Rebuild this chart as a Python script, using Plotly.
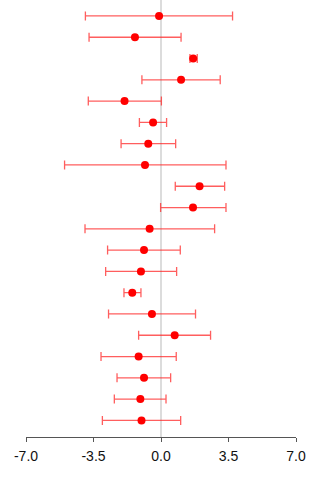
import plotly.graph_objects as go

# Estimates (top row first)
estimates = [-0.10, -1.35, 1.67, 1.04, -1.89, -0.41, -0.66, -0.83, 2.00, 1.66,
             -0.59, -0.88, -1.04, -1.49, -0.47, 0.71, -1.16, -0.88, -1.07, -1.01]
lower = [-3.92, -3.73, 1.50, -0.99, -3.77, -1.12, -2.07, -5.00, 0.74, -0.02,
         -3.94, -2.77, -2.87, -1.92, -2.72, -1.16, -3.11, -2.28, -2.42, -3.04]
upper = [3.71, 1.04, 1.88, 3.07, 0.02, 0.29, 0.76, 3.37, 3.30, 3.37,
         2.78, 1.00, 0.81, -1.04, 1.79, 2.57, 0.79, 0.50, 0.26, 1.02]
tick_vals = [-7, -3.5, 0, 3.5, 7]
tick_text = ["-7.0", "-3.5", "0.0", "3.5", "7.0"]

n = len(estimates)
rows = [n - i for i in range(n)]
err_plus = [u - e for u, e in zip(upper, estimates)]
err_minus = [e - l for e, l in zip(estimates, lower)]

fig = go.Figure()
fig.add_trace(go.Scatter(
    x=estimates, y=rows, mode="markers",
    marker=dict(color="#ff0000", size=8),
    error_x=dict(type="data", symmetric=False, array=err_plus, arrayminus=err_minus,
                 color="rgba(255,40,40,0.75)", thickness=1.3, width=4.5),
    showlegend=False, hoverinfo="skip",
))

fig.update_layout(
    width=320, height=480,
    margin=dict(l=26, r=24, t=0, b=43),
    paper_bgcolor="white", plot_bgcolor="white",
    font=dict(family="Liberation Sans, Arial, sans-serif", size=14, color="#111"),
    xaxis=dict(range=[-7, 7], tickvals=tick_vals, ticktext=tick_text,
               showgrid=False, zeroline=True, zerolinecolor="#dcdcdc", zerolinewidth=2,
               showline=True, linecolor="#555", linewidth=1,
               ticks="outside", ticklen=4, tickcolor="#555", tickwidth=1,
               ticklabelstandoff=2),
    yaxis=dict(range=[0.22, 20.75], visible=False, showgrid=False, zeroline=False),
)

fig.write_html("out.html")
